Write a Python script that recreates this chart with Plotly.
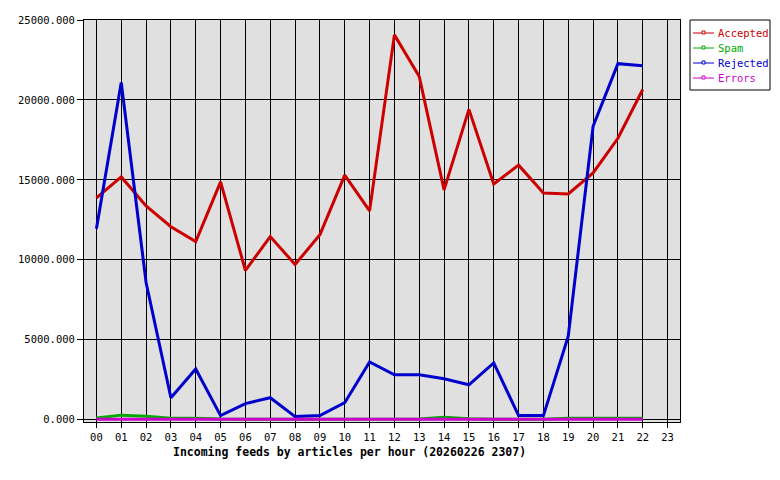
import plotly.graph_objects as go

# ---- data -------------------------------------------------------------
HOURS = [f"{h:02d}" for h in range(24)]

ACCEPTED = [13870, 15180, 13370, 12070, 11140, 14870, 9330, 11450, 9700, 11570,
            15300, 13060, 24070, 21460, 14370, 19410, 14740, 15920, 14180, 14120,
            15430, 17600, 20650]
SPAM = [100, 280, 210, 90, 90, 30, 20, 20, 20, 20,
        20, 20, 20, 40, 150, 60, 20, 20, 20, 80,
        80, 80, 80]
REJECTED = [11940, 21090, 8580, 1370, 3170, 250, 1000, 1370, 190, 250,
            1060, 3610, 2800, 2800, 2550, 2180, 3550, 250, 250, 5220,
            18350, 22270, 22140]
ERRORS = [20] * 23

SERIES = [
    ("Accepted", ACCEPTED, "#cc0000", 3),
    ("Spam", SPAM, "#00aa00", 3),
    ("Rejected", REJECTED, "#0000cc", 3),
    ("Errors", ERRORS, "#cc00cc", 3),
]

Y_TICKS = [0, 5000, 10000, 15000, 20000, 25000]
Y_TICKTEXT = [f"{v:.3f}" for v in Y_TICKS]

TITLE = "Incoming feeds by articles per hour (20260226 2307)"

MONO = "DejaVu Sans Mono, Liberation Mono, monospace"

# ---- figure -----------------------------------------------------------
W, H = 780, 480
L, R, T, B = 84, 100, 20, 58
PW, PH = W - L - R, H - T - B


def px_x(x):
    return (x - L) / PW


def px_y(y):
    return 1 - (y - T) / PH


fig = go.Figure()
for name, vals, color, width in SERIES:
    fig.add_trace(go.Scatter(
        x=list(range(len(vals))), y=vals, mode="lines", cliponaxis=False,
        line=dict(color=color, width=width), name=name, showlegend=False,
    ))

# hand-built legend box
shapes = [dict(type="rect", xref="paper", yref="paper",
               x0=px_x(690), x1=px_x(770), y0=px_y(90), y1=px_y(20),
               line=dict(color="black", width=1), fillcolor="white", layer="above")]
annotations = []
for i, (name, vals, color, width) in enumerate(SERIES):
    yy = 33 + 15 * i
    shapes.append(dict(type="line", xref="paper", yref="paper",
                       x0=px_x(693), x1=px_x(714), y0=px_y(yy), y1=px_y(yy),
                       line=dict(color=color, width=1), layer="above"))
    shapes.append(dict(type="rect", xref="paper", yref="paper",
                       x0=px_x(702), x1=px_x(705), y0=px_y(yy + 1), y1=px_y(yy - 2),
                       line=dict(color=color, width=1), fillcolor="white", layer="above"))
    annotations.append(dict(text=name, xref="paper", yref="paper",
                            x=px_x(716), y=px_y(yy), xanchor="left", yanchor="middle",
                            showarrow=False, font=dict(family=MONO, size=10.5, color=color)))

annotations.append(dict(text=f"<b>{TITLE}</b>", xref="paper", yref="paper",
                        x=px_x(349), y=px_y(452), xanchor="center", yanchor="middle",
                        showarrow=False, font=dict(family=MONO, size=11.5, color="black")))

fig.update_layout(
    width=W, height=H,
    margin=dict(l=L, r=R, t=T, b=B),
    paper_bgcolor="white",
    plot_bgcolor="#e0e0e0",
    font=dict(family=MONO, size=10.5, color="black"),
    showlegend=False,
    xaxis=dict(range=[-0.5, 23.5], tickmode="array",
               tickvals=list(range(24)), ticktext=HOURS,
               showgrid=True, gridcolor="black", gridwidth=1,
               ticks="outside", ticklen=5, tickcolor="black",
               showline=True, linecolor="black", linewidth=1, mirror=True,
               zeroline=False, fixedrange=True),
    yaxis=dict(range=[-150, 25000], tickmode="array",
               tickvals=Y_TICKS, ticktext=Y_TICKTEXT,
               showgrid=True, gridcolor="black", gridwidth=1,
               ticks="outside", ticklen=6, tickcolor="black",
               showline=True, linecolor="black", linewidth=1, mirror=True,
               zeroline=False, fixedrange=True),
    shapes=shapes,
    annotations=annotations,
)

fig.write_html("out.html", config=dict(displayModeBar=False),
               post_script="document.body.style.margin='0';")
